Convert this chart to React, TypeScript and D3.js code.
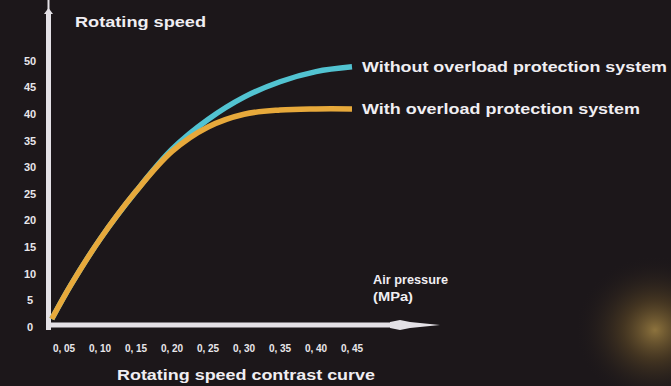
import React from "react";
import * as d3 from "d3";

const W = 671;
const H = 386;

const xTicks = [0.05, 0.1, 0.15, 0.2, 0.25, 0.3, 0.35, 0.4, 0.45];
const xTickLabels = ["0, 05", "0, 10", "0, 15", "0, 20", "0, 25", "0, 30", "0, 35", "0, 40", "0, 45"];
const yTicks = [0, 5, 10, 15, 20, 25, 30, 35, 40, 45, 50];

const pressure = [0.033, 0.06, 0.1, 0.15, 0.2, 0.25, 0.3, 0.35, 0.4, 0.45];
const withProtection = [1.5, 8, 16.5, 25.5, 33, 37.6, 40.0, 40.8, 41, 41];
const withoutProtection = [1.5, 8, 16.5, 25.5, 33.4, 39.0, 43.2, 46.1, 48.0, 48.9];

const seriesNames = ["Without overload protection system", "With overload protection system"];
const colors = ["#52c3d1", "#e7a93b"];

export default function App() {
  const x = d3.scaleLinear().domain([0.05, 0.45]).range([64, 352]);
  const y = d3.scaleLinear().domain([0, 50]).range([327, 61]);
  const line = d3
    .line<number>()
    .x((_, i) => x(pressure[i]))
    .y((d) => y(d))
    .curve(d3.curveCatmullRom.alpha(0.5));

  const series = [withoutProtection, withProtection];
  const font = "'Liberation Sans', Arial, sans-serif";

  return (
    <svg
      width={W}
      height={H}
      style={{ position: "absolute", left: 0, top: 0, background: "#1c171a" }}
      fontFamily={font}
    >
      <defs>
        <radialGradient id="glow" cx="0.5" cy="0.5" r="0.5">
          <stop offset="0%" stopColor="#d8b055" stopOpacity={0.6} />
          <stop offset="40%" stopColor="#8a6a2e" stopOpacity={0.35} />
          <stop offset="100%" stopColor="#1c171a" stopOpacity={0} />
        </radialGradient>
      </defs>
      <rect width={W} height={H} fill="#1c171a" />
      <ellipse cx={655} cy={330} rx={80} ry={75} fill="url(#glow)" />

      {/* axes */}
      <rect x={46} y={14} width={5} height={316} fill="#e4e1e6" />
      <rect x={47.5} y={0} width={2} height={16} fill="#e4e1e6" />
      <path d="M44,14 L48.5,8 L53,14 Z" fill="#e4e1e6" />
      <rect x={46} y={322.5} width={348} height={5} fill="#e4e1e6" />
      <path d="M390,322 L400,320 L410,322 L440,325 L410,328 L400,330 L390,328 Z" fill="#e4e1e6" />

      {/* y ticks */}
      {yTicks.map((t) => (
        <text
          key={t}
          x={30}
          y={y(t)}
          dy="0.35em"
          textAnchor="middle"
          fontSize={11}
          fontWeight="bold"
          fill="#e8e6ea"
        >
          {t}
        </text>
      ))}

      {/* x ticks */}
      {xTicks.map((t, i) => (
        <text
          key={t}
          x={x(t)}
          y={348}
          dy="0.35em"
          textAnchor="middle"
          fontSize={10}
          fontWeight="bold"
          fill="#e8e6ea"
        >
          {xTickLabels[i]}
        </text>
      ))}

      {/* lines */}
      {series.map((s, i) => (
        <path
          key={i}
          d={line(s) || ""}
          fill="none"
          stroke={colors[i]}
          strokeWidth={5.5}
          strokeLinecap="butt"
        />
      ))}

      {/* series labels */}
      {series.map((s, i) => (
        <text
          key={"l" + i}
          x={362}
          y={y(s[s.length - 1])}
          dy="0.35em"
          fontSize={15}
          fontWeight="bold"
          fill="#f0eef2"
          textLength={i === 0 ? 305 : 278}
          lengthAdjust="spacingAndGlyphs"
        >
          {seriesNames[i]}
        </text>
      ))}

      <text x={75} y={27} fontSize={14} fontWeight="bold" fill="#f0eef2" textLength={131} lengthAdjust="spacingAndGlyphs">
        Rotating speed
      </text>
      <text x={373} y={284} fontSize={13} fontWeight="bold" fill="#f0eef2" textLength={75} lengthAdjust="spacingAndGlyphs">
        Air pressure
      </text>
      <text x={373} y={301} fontSize={13} fontWeight="bold" fill="#f0eef2" textLength={40} lengthAdjust="spacingAndGlyphs">
        (MPa)
      </text>
      <text x={117} y={380} fontSize={14} fontWeight="bold" fill="#f0eef2" textLength={258} lengthAdjust="spacingAndGlyphs">
        Rotating speed contrast curve
      </text>
    </svg>
  );
}
